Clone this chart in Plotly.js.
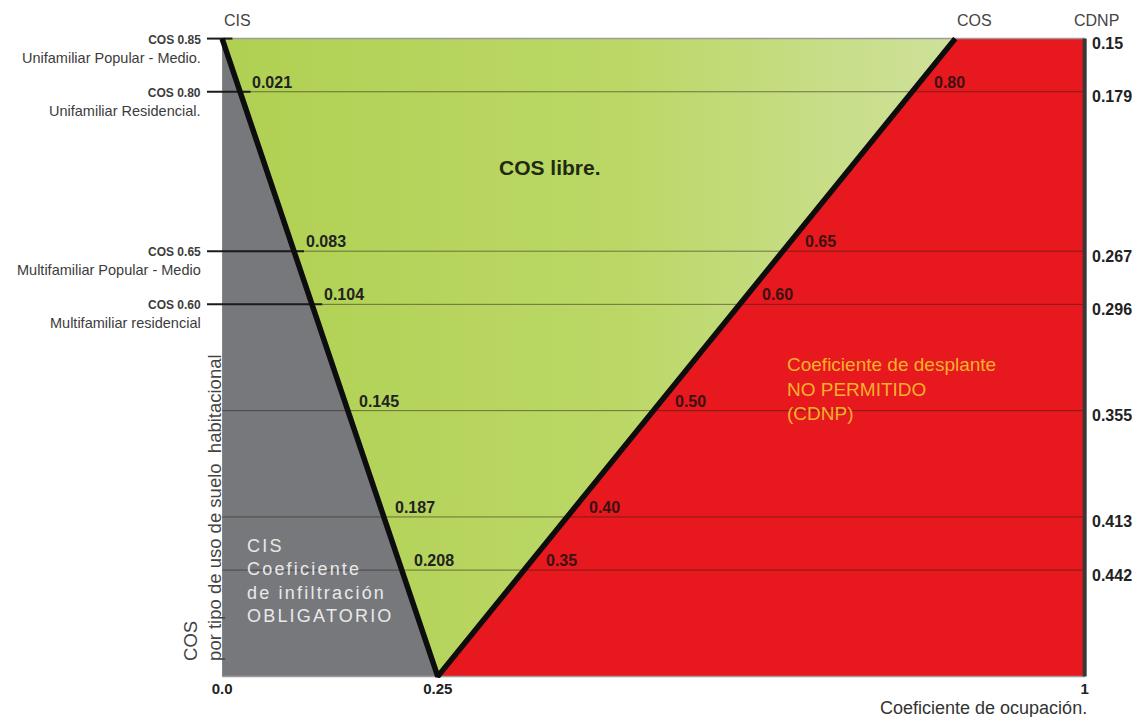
<!DOCTYPE html>
<html><head><meta charset="utf-8">
<script src="https://cdn.plot.ly/plotly-3.0.1.min.js"></script>
<style>html,body{margin:0;padding:0;background:#fff}#chart{width:1141px;height:717px}</style>
</head><body><div id="chart"></div>
<script>
// ---- data ----
const cosLevels  = [0.85, 0.80, 0.65, 0.60, 0.50, 0.40, 0.35];
const cisValues  = [0.000, 0.021, 0.083, 0.104, 0.145, 0.187, 0.208];
const cdnpValues = [0.15, 0.179, 0.267, 0.296, 0.355, 0.413, 0.442];
const cosText    = ['0.85', '0.80', '0.65', '0.60', '0.50', '0.40', '0.35'];
const cisText    = ['', '0.021', '0.083', '0.104', '0.145', '0.187', '0.208'];
const cdnpText   = ['0.15', '0.179', '0.267', '0.296', '0.355', '0.413', '0.442'];
const useTypes   = ['Unifamiliar Popular - Medio.', 'Unifamiliar Residencial.',
                    'Multifamiliar Popular - Medio', 'Multifamiliar residencial', '', '', ''];
const cosMin = 0.25, cosMax = 0.85, cisMax = 0.25, occMax = 1;
const xTickVals = [0, 0.25, 1];
const xTickText = ['0.0', '0.25', '1'];

// ---- styles ----
const SANS = 'Liberation Sans, Arial, sans-serif';
const xLeft = -0.0175;

const traces = [];
// gray CIS region
traces.push({x: [0, cisMax, 0, 0], y: [cosMax, cosMin, cosMin, cosMax], mode: 'lines',
  fill: 'toself', fillcolor: '#77787c', line: {width: 0}, hoverinfo: 'skip', showlegend: false});
// green COS libre region
traces.push({x: [0, cosMax, cisMax, 0], y: [cosMax, cosMax, cosMin, cosMax], mode: 'lines',
  fill: 'toself', fillcolor: '#b8d65e',
  fillgradient: {type: 'horizontal', colorscale: [[0, '#b0d052'], [0.55, '#bbd867'], [1, '#cfe19b']]},
  line: {width: 0}, hoverinfo: 'skip', showlegend: false});
// red CDNP region
traces.push({x: [cisMax, occMax, occMax, cosMax, cisMax], y: [cosMin, cosMin, cosMax, cosMax, cosMin], mode: 'lines',
  fill: 'toself', fillcolor: '#e8181f', line: {width: 0}, hoverinfo: 'skip', showlegend: false});

// thin horizontal level lines
const hx = [], hy = [];
cosLevels.forEach((c, i) => { if (i > 0) { hx.push(0, occMax, null); hy.push(c, c, null); } });
traces.push({x: hx, y: hy, mode: 'lines', line: {color: 'rgba(45,30,20,0.55)', width: 1},
  hoverinfo: 'skip', showlegend: false});
// top / bottom border
traces.push({x: [0, occMax, null, 0, occMax], y: [cosMax, cosMax, null, cosMin, cosMin], mode: 'lines',
  line: {color: '#9c9c9c', width: 1.5}, hoverinfo: 'skip', showlegend: false});
// black leader ticks for labelled land-use types
const tx = [], ty = [];
cosLevels.forEach((c, i) => { if (useTypes[i]) { tx.push(xLeft, cisValues[i] + 0.012, null); ty.push(c, c, null); } });
traces.push({x: tx, y: ty, mode: 'lines', line: {color: '#1b1b1b', width: 2},
  hoverinfo: 'skip', showlegend: false});
// thick CIS and COS boundary lines
traces.push({x: [0, cisMax, cosMax], y: [cosMax, cosMin, cosMax], mode: 'lines',
  line: {color: '#0d0d0d', width: 5.5}, hoverinfo: 'skip', showlegend: false});
// right border
traces.push({x: [occMax, occMax], y: [cosMin, cosMax], mode: 'lines',
  line: {color: '#36393a', width: 4}, hoverinfo: 'skip', showlegend: false});

const ann = [];
cosLevels.forEach((c, i) => {
  // left land-use labels
  if (useTypes[i]) {
    ann.push({xref: 'paper', yref: 'y', x: 0, y: c, xanchor: 'right', yanchor: 'top', xshift: -4, yshift: 8,
      align: 'right', showarrow: false,
      text: '<b><span style="font-size:12px">COS ' + cosText[i] + '</span></b><br>' + useTypes[i],
      font: {family: SANS, size: 14.5, color: '#3c3c3c'}});
  }
  // CIS values next to CIS line
  if (cisText[i]) {
    ann.push({xref: 'x', yref: 'y', x: cisValues[i], y: c, xanchor: 'left', yanchor: 'bottom', xshift: 10, yshift: -1,
      showarrow: false, text: '<b>' + cisText[i] + '</b>', font: {family: SANS, size: 16, color: '#222'}});
  }
  // COS values next to COS line
  if (i > 0) {
    ann.push({xref: 'x', yref: 'y', x: c, y: c, xanchor: 'left', yanchor: 'bottom', xshift: 20, yshift: -1,
      showarrow: false, text: '<b>' + cosText[i] + '</b>', font: {family: SANS, size: 16, color: '#3a1212'}});
  }
  // CDNP values on the right
  ann.push({xref: 'x', yref: 'y', x: occMax, y: c, xanchor: 'left', yanchor: 'middle', xshift: 5, yshift: -5,
    showarrow: false, text: '<b>' + cdnpText[i] + '</b>', font: {family: SANS, size: 16, color: '#222'}});
});

// header labels
ann.push({xref: 'x', yref: 'paper', x: 0, y: 1, xanchor: 'left', yanchor: 'middle', yshift: 17, showarrow: false,
  text: 'CIS', font: {family: SANS, size: 16, color: '#444'}});
ann.push({xref: 'x', yref: 'paper', x: cosMax, y: 1, xanchor: 'left', yanchor: 'middle', yshift: 17, showarrow: false,
  text: 'COS', font: {family: SANS, size: 16, color: '#444'}});
ann.push({xref: 'x', yref: 'paper', x: occMax, y: 1, xanchor: 'center', yanchor: 'middle', xshift: 12, yshift: 17, showarrow: false,
  text: 'CDNP', font: {family: SANS, size: 16, color: '#444'}});
// x title
ann.push({xref: 'x', yref: 'paper', x: occMax, y: 0, xanchor: 'right', yanchor: 'middle', xshift: 4, yshift: -30, showarrow: false,
  text: 'Coeficiente de ocupación.', font: {family: SANS, size: 18, color: '#333'}});
// y title (rotated)
ann.push({xref: 'paper', yref: 'y', x: 0, y: cosMin, xanchor: 'center', yanchor: 'bottom', xshift: -4, yshift: 13,
  textangle: -90, align: 'left', showarrow: false,
  text: 'COS<br>por tipo de uso de suelo&nbsp; habitacional', font: {family: SANS, size: 18.5, color: '#444'}});
// region labels
ann.push({xref: 'x', yref: 'y', x: 0.3187, y: 0.7287, xanchor: 'left', yanchor: 'middle', showarrow: false,
  text: '<b>COS libre.</b>', font: {family: SANS, size: 21, color: '#1f2a12'}});
ann.push({xref: 'x', yref: 'y', x: 0.027, y: 0.384, xanchor: 'left', yanchor: 'top', align: 'left', showarrow: false,
  text: '<span style="letter-spacing:2.2px">CIS<br>Coeficiente<br>de infiltración<br>OBLIGATORIO</span>',
  font: {family: SANS, size: 18, color: '#e9e9e9'}});
ann.push({xref: 'x', yref: 'y', x: 0.652, y: 0.555, xanchor: 'left', yanchor: 'top', align: 'left', showarrow: false,
  text: 'Coeficiente de desplante<br>NO PERMITIDO<br>(CDNP)', font: {family: SANS, size: 19, color: '#f6b12a'}});

const layout = {
  width: 1141, height: 717,
  margin: {l: 207, r: 52, t: 37, b: 39},
  paper_bgcolor: '#ffffff', plot_bgcolor: '#ffffff',
  showlegend: false,
  xaxis: {range: [xLeft, 1.005], tickvals: xTickVals, ticktext: xTickText.map(t => '<b>' + t + '</b>'),
    tickfont: {family: SANS, size: 15, color: '#222'}, showgrid: false, zeroline: false, showline: false,
    ticks: '', fixedrange: true},
  yaxis: {range: [0.2485, 0.8515], visible: false, showgrid: false, zeroline: false, fixedrange: true},
  annotations: ann
};
Plotly.newPlot('chart', traces, layout, {displayModeBar: false, staticPlot: true});
</script></body></html>
